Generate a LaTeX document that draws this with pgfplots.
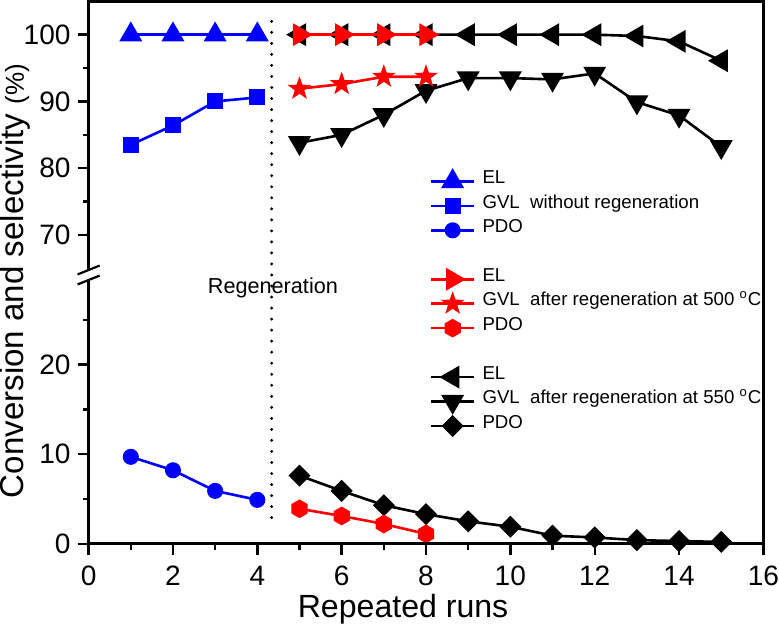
\documentclass[border=0pt]{standalone}
\usepackage{fontspec}
\setmainfont{Liberation Sans}
\usepackage{pgfplots}
\pgfplotsset{compat=1.18}

\definecolor{myblue}{RGB}{0,0,255}
\definecolor{myred}{RGB}{255,0,0}

\pgfdeclareplotmark{hexagon*}{%
  \pgfpathmoveto{\pgfpointpolar{90}{\pgfplotmarksize}}%
  \pgfpathlineto{\pgfpointpolar{150}{\pgfplotmarksize}}%
  \pgfpathlineto{\pgfpointpolar{210}{\pgfplotmarksize}}%
  \pgfpathlineto{\pgfpointpolar{270}{\pgfplotmarksize}}%
  \pgfpathlineto{\pgfpointpolar{330}{\pgfplotmarksize}}%
  \pgfpathlineto{\pgfpointpolar{30}{\pgfplotmarksize}}%
  \pgfpathclose
  \pgfusepathqfillstroke}
\pgfdeclareplotmark{fstar*}{%
  \pgfpathmoveto{\pgfpointpolar{90}{\pgfplotmarksize}}%
  \pgfpathlineto{\pgfpointpolar{126}{0.4*\pgfplotmarksize}}%
  \pgfpathlineto{\pgfpointpolar{162}{\pgfplotmarksize}}%
  \pgfpathlineto{\pgfpointpolar{198}{0.4*\pgfplotmarksize}}%
  \pgfpathlineto{\pgfpointpolar{234}{\pgfplotmarksize}}%
  \pgfpathlineto{\pgfpointpolar{270}{0.4*\pgfplotmarksize}}%
  \pgfpathlineto{\pgfpointpolar{306}{\pgfplotmarksize}}%
  \pgfpathlineto{\pgfpointpolar{342}{0.4*\pgfplotmarksize}}%
  \pgfpathlineto{\pgfpointpolar{18}{\pgfplotmarksize}}%
  \pgfpathlineto{\pgfpointpolar{54}{0.4*\pgfplotmarksize}}%
  \pgfpathclose
  \pgfusepathqfillstroke}
\pgfdeclareplotmark{sqdiamond*}{%
  \pgfpathmoveto{\pgfqpoint{0pt}{\pgfplotmarksize}}%
  \pgfpathlineto{\pgfqpoint{\pgfplotmarksize}{0pt}}%
  \pgfpathlineto{\pgfqpoint{0pt}{-\pgfplotmarksize}}%
  \pgfpathlineto{\pgfqpoint{-\pgfplotmarksize}{0pt}}%
  \pgfpathclose
  \pgfusepathqfillstroke}

\pgfplotsset{
  blueEL/.style={myblue, line width=1.3pt, mark=triangle*, mark size=5.6pt, mark options={solid, fill=myblue, draw=myblue, line width=1pt}},
  blueGVL/.style={myblue, line width=1.3pt, mark=square*, mark size=3.5pt, mark options={solid, fill=myblue, draw=myblue, line width=1pt}},
  bluePDO/.style={myblue, line width=1.3pt, mark=*, mark size=3.5pt, mark options={solid, fill=myblue, draw=myblue, line width=1pt}},
  redEL/.style={myred, line width=1.3pt, mark=triangle*, mark size=5.6pt, mark options={solid, fill=myred, draw=myred, rotate=-90, line width=1pt}},
  redGVL/.style={myred, line width=1.3pt, mark=fstar*, mark size=4.7pt, mark options={solid, fill=myred, draw=myred, line width=1pt}},
  redPDO/.style={myred, line width=1.3pt, mark=hexagon*, mark size=4.1pt, mark options={solid, fill=myred, draw=myred, line width=1pt}},
  blackEL/.style={black, line width=1.3pt, mark=triangle*, mark size=5.6pt, mark options={solid, fill=black, draw=black, rotate=90, line width=1pt}},
  blackGVL/.style={black, line width=1.3pt, mark=triangle*, mark size=5.6pt, mark options={solid, fill=black, draw=black, rotate=180, line width=1pt}},
  blackPDO/.style={black, line width=1.3pt, mark=sqdiamond*, mark size=4.8pt, mark options={solid, fill=black, draw=black, line width=1pt}},
  common/.style={
    width=336.5pt, scale only axis, xmin=0, xmax=16,
    tick align=outside, major tick length=5.5pt, minor tick length=3pt,
    tick style={line width=1.2pt, black},
    separate axis lines,
    axis line style={draw=none},
    ticklabel style={font=\fontsize{14}{16}\selectfont},
    /pgf/number format/assume math mode=true,
    clip mode=individual,
  },
}

\begin{document}
\begin{tikzpicture}
\begin{axis}[common, name=lower, at={(0,0)}, anchor=south west,
  height=134pt, ymin=0, ymax=30,
  xtick={0,2,...,16}, minor x tick num=1,
  ytick={0,10,20}, minor ytick={5,15,25},
  tick pos=left,
  xticklabel style={yshift=-2pt, inner xsep=0pt},
  xlabel={Repeated runs},
  xlabel style={font=\fontsize{16}{18}\selectfont, at={(axis description cs:0.466,0)}, anchor=base, yshift=-37pt, inner sep=0pt},
  legend image code/.code={\draw[mark repeat=2,mark phase=2] plot coordinates {(0pt,0pt) (10.75pt,0pt) (21.5pt,0pt)};},
  legend style={at={(rel axis cs:0.505,1.3955)}, anchor=north west, draw=none, fill=none,
    inner sep=0pt, row sep=0pt, column sep=0pt,
    font=\fontsize{9.3}{10}\selectfont,
    nodes={inner ysep=0pt, inner xsep=3.5pt, text height=7.2pt, text depth=5pt}},
  legend cell align=left,
]
\addplot[blackPDO, forget plot] coordinates {(5,7.6) (6,5.9) (7,4.3) (8,3.3) (9,2.5) (10,1.9) (11,0.9) (12,0.7) (13,0.4) (14,0.3) (15,0.2)};
\addplot[redPDO, forget plot] coordinates {(5,3.9) (6,3.1) (7,2.2) (8,1.1)};
\addplot[bluePDO, forget plot] coordinates {(1,9.7) (2,8.2) (3,5.9) (4,4.9)};
\coordinate (dbot) at (axis cs:4.34,2.8);
\node[font=\fontsize{10.8}{12}\selectfont] at (axis cs:4.37,28.6) {Regeneration};

\addlegendimage{blueEL}\addlegendentry{EL}
\addlegendimage{blueGVL}\addlegendentry{GVL\ \ without regeneration}
\addlegendimage{bluePDO}\addlegendentry{PDO}
\addlegendimage{empty legend}\addlegendentry{}
\addlegendimage{redEL}\addlegendentry{EL}
\addlegendimage{redGVL}\addlegendentry{GVL\ \ after regeneration at 500 \textsuperscript{o}C}
\addlegendimage{redPDO}\addlegendentry{PDO}
\addlegendimage{empty legend}\addlegendentry{}
\addlegendimage{blackEL}\addlegendentry{EL}
\addlegendimage{blackGVL}\addlegendentry{GVL\ \ after regeneration at 550 \textsuperscript{o}C}
\addlegendimage{blackPDO}\addlegendentry{PDO}
\end{axis}

\begin{axis}[common, name=upper, at={(lower.north west)}, anchor=south west,
  height=136.5pt, ymin=64, ymax=105,
  xtick=\empty,
  ytick={70,80,90,100}, minor ytick={75,85,95},
  ytick pos=left,
]
\addplot[blackEL] coordinates {(5,100) (6,100) (7,100) (8,100) (9,100) (10,100) (11,100) (12,100) (13,99.8) (14,99.0) (15,96.1)};
\addplot[blackGVL] coordinates {(5,83.8) (6,85.0) (7,88.0) (8,91.6) (9,93.5) (10,93.5) (11,93.3) (12,94.2) (13,89.9) (14,87.9) (15,83.2)};
\addplot[redEL] coordinates {(5,100) (6,100) (7,100) (8,100)};
\addplot[redGVL] coordinates {(5,91.9) (6,92.6) (7,93.7) (8,93.7)};
\addplot[blueEL] coordinates {(1,100) (2,100) (3,100) (4,100)};
\addplot[blueGVL] coordinates {(1,83.5) (2,86.4) (3,90.0) (4,90.6)};
\coordinate (dtop) at (axis cs:4.34,102);
\end{axis}

% dotted regeneration line
\draw[line width=1.6pt, line cap=round, dash pattern=on 0pt off 5.5pt] (dtop) -- (dbot);

% frame with axis break
\draw[line width=1.3pt] ([yshift=-2.5pt]lower.north west) -- (lower.south west) -- (lower.south east) -- (lower.north east) -- (upper.north east) -- (upper.north west) -- ([yshift=2.5pt]upper.south west);
\draw[line width=1.1pt] ([xshift=-5.5pt,yshift=0.3pt]upper.south west) -- ([xshift=5.5pt,yshift=4.7pt]upper.south west);
\draw[line width=1.1pt] ([xshift=-5.5pt,yshift=-4.7pt]upper.south west) -- ([xshift=5.5pt,yshift=-0.3pt]upper.south west);

% y label
\node[rotate=90, inner sep=0pt, font=\fontsize{16.5}{18}\selectfont] at ([xshift=-36.5pt,yshift=131pt]lower.south west) {Conversion and selectivity {\fontsize{13}{15}\selectfont (\%)}};
\end{tikzpicture}
\end{document}
